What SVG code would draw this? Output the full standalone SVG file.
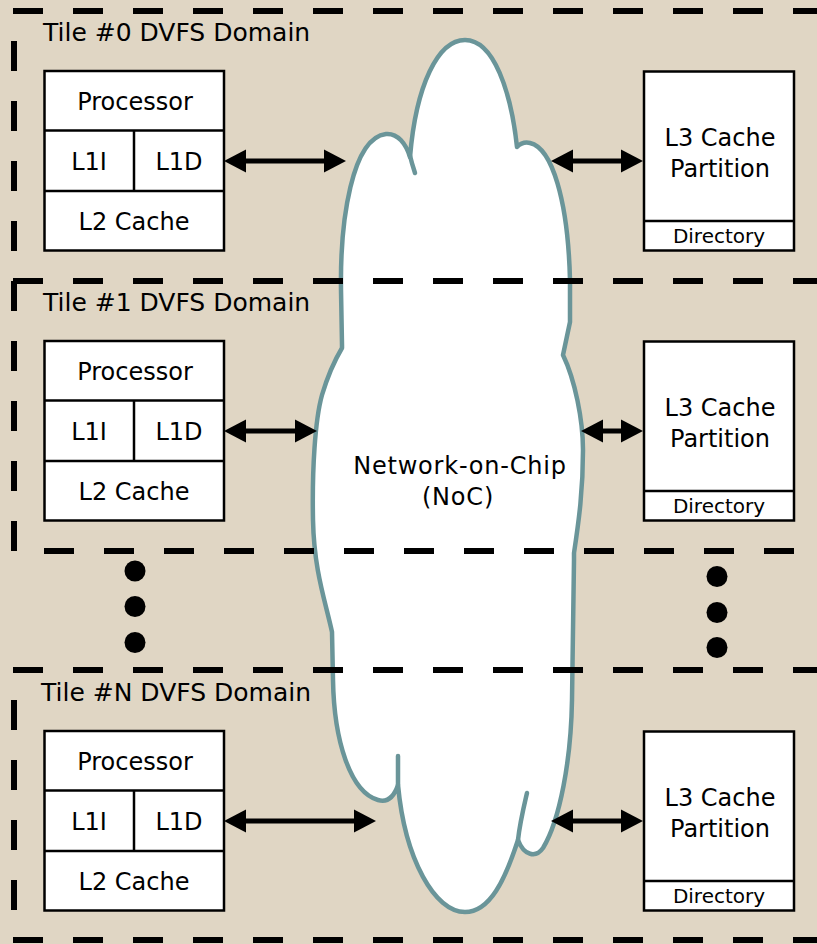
<svg xmlns="http://www.w3.org/2000/svg" width="817" height="944" viewBox="0 0 817 944">
  <defs>
    <style>
      .bg { fill: #e0d6c4; }
      .dash { stroke: #000; stroke-width: 6; stroke-dasharray: 30 30; fill: none; }
      .box { fill: #fff; stroke: #000; stroke-width: 2.5; }
      .div { stroke: #000; stroke-width: 2.5; fill: none; }
      .t { font-family: "DejaVu Sans", "Liberation Sans", sans-serif; fill: #000; }
      .title { font-size: 25px; }
      .lbl { font-size: 24px; text-anchor: middle; }
      .small { font-size: 20px; text-anchor: middle; }
      .cloud { fill: #fff; stroke: #6a9599; stroke-width: 4.5; stroke-linejoin: round; }
      .tail { fill: none; stroke: #6a9599; stroke-width: 4.5; stroke-linecap: round; }
      .arrow { stroke: #000; stroke-width: 5; fill: none; marker-start: url(#ah); marker-end: url(#ah); }
      .dot { fill: #000; }
    </style>
    <marker id="ah" markerUnits="userSpaceOnUse" markerWidth="23" markerHeight="24" viewBox="0 0 23 24" refX="11" refY="12" orient="auto-start-reverse">
      <path d="M0,0.5 L22,12 L0,23.5 z" fill="#000"/>
    </marker>
  </defs>

  <rect class="bg" x="0" y="0" width="817" height="944"/>

  <g id="cloud">
    <path class="cloud" d="M 342 345 L 341 290 C 340 220, 352 138, 386 134 C 398 133, 406 144, 410 157 C 416 85, 438 40, 465 40 C 494 40, 511 92, 517 147 C 521 143, 526 142, 530 143 C 552 148, 568 200, 570 280 L 570 322 L 563 355 C 575 380, 583 420, 583 450 C 583 490, 579 520, 574 553 L 574 560 L 572 700 C 571 760, 560 820, 543 848 C 536 858, 524 856, 518 840 C 505 880, 490 912, 465 912 C 435 912, 405 860, 398 785 C 393 800, 385 802, 378 800 C 350 792, 334 740, 333 680 L 332 632 C 325 600, 314 570, 313 520 C 312 470, 315 420, 322 395 C 328 375, 336 358, 342 348 Z"/>
    <path class="tail" d="M 409 152 C 411 160, 413 167, 415 173"/>
    <path class="tail" d="M 398 785 L 398 756"/>
    <path class="tail" d="M 518 840 C 520 822, 524 806, 527 793"/>
    <text class="t lbl" x="460" y="474" letter-spacing="0.8">Network-on-Chip</text>
    <text class="t lbl" x="458" y="505" letter-spacing="0.8">(NoC)</text>
  </g>

  <g id="domains">
    <line class="dash" x1="13" y1="11" x2="817" y2="11"/>
    <line class="dash" x1="13" y1="281" x2="817" y2="281"/>
    <line class="dash" x1="44" y1="551" x2="817" y2="551"/>
    <line class="dash" x1="13" y1="670" x2="817" y2="670"/>
    <line class="dash" x1="13" y1="940" x2="817" y2="940"/>
    <line class="dash" x1="14" y1="11" x2="14" y2="551" stroke-dashoffset="30"/>
    <line class="dash" x1="14" y1="670" x2="14" y2="940" stroke-dashoffset="30"/>
    <text class="t title" x="43" y="40.5">Tile #0 DVFS Domain</text>
    <text class="t title" x="43" y="310.5">Tile #1 DVFS Domain</text>
    <text class="t title" x="41" y="700.5">Tile #N DVFS Domain</text>
  </g>

  <g id="tile0-core">
    <rect class="box" x="44.5" y="71" width="179.5" height="179.5"/>
    <line class="div" x1="44.5" y1="130.5" x2="224" y2="130.5"/>
    <line class="div" x1="44.5" y1="191" x2="224" y2="191"/>
    <line class="div" x1="134" y1="130.5" x2="134" y2="191"/>
    <text class="t lbl" x="135" y="110">Processor</text>
    <text class="t lbl" x="89" y="170">L1I</text>
    <text class="t lbl" x="179" y="170">L1D</text>
    <text class="t lbl" x="134" y="230">L2 Cache</text>
  </g>
  <g id="tile0-l3">
    <rect class="box" x="644" y="71.5" width="150" height="179"/>
    <line class="div" x1="644" y1="221" x2="794" y2="221"/>
    <text class="t lbl" x="720" y="146">L3 Cache</text>
    <text class="t lbl" x="720" y="177">Partition</text>
    <text class="t small" x="719" y="243">Directory</text>
  </g>

  <g id="tile1-core">
    <rect class="box" x="44.5" y="341" width="179.5" height="179.5"/>
    <line class="div" x1="44.5" y1="400.5" x2="224" y2="400.5"/>
    <line class="div" x1="44.5" y1="461" x2="224" y2="461"/>
    <line class="div" x1="134" y1="400.5" x2="134" y2="461"/>
    <text class="t lbl" x="135" y="380">Processor</text>
    <text class="t lbl" x="89" y="440">L1I</text>
    <text class="t lbl" x="179" y="440">L1D</text>
    <text class="t lbl" x="134" y="500">L2 Cache</text>
  </g>
  <g id="tile1-l3">
    <rect class="box" x="644" y="341.5" width="150" height="179"/>
    <line class="div" x1="644" y1="491" x2="794" y2="491"/>
    <text class="t lbl" x="720" y="416">L3 Cache</text>
    <text class="t lbl" x="720" y="447">Partition</text>
    <text class="t small" x="719" y="513">Directory</text>
  </g>

  <g id="tileN-core">
    <rect class="box" x="44.5" y="731" width="179.5" height="179.5"/>
    <line class="div" x1="44.5" y1="790.5" x2="224" y2="790.5"/>
    <line class="div" x1="44.5" y1="851" x2="224" y2="851"/>
    <line class="div" x1="134" y1="790.5" x2="134" y2="851"/>
    <text class="t lbl" x="135" y="770">Processor</text>
    <text class="t lbl" x="89" y="830">L1I</text>
    <text class="t lbl" x="179" y="830">L1D</text>
    <text class="t lbl" x="134" y="890">L2 Cache</text>
  </g>
  <g id="tileN-l3">
    <rect class="box" x="644" y="731.5" width="150" height="179"/>
    <line class="div" x1="644" y1="881" x2="794" y2="881"/>
    <text class="t lbl" x="720" y="806">L3 Cache</text>
    <text class="t lbl" x="720" y="837">Partition</text>
    <text class="t small" x="719" y="903">Directory</text>
  </g>

  <g id="ellipsis">
    <ellipse class="dot" cx="135" cy="571" rx="10.5" ry="10.5"/>
    <ellipse class="dot" cx="135" cy="606.5" rx="10.5" ry="10.5"/>
    <ellipse class="dot" cx="135" cy="642.5" rx="10.5" ry="10.5"/>
    <ellipse class="dot" cx="717" cy="576.5" rx="10.5" ry="10.5"/>
    <ellipse class="dot" cx="717" cy="612.5" rx="10.5" ry="10.5"/>
    <ellipse class="dot" cx="717" cy="647.5" rx="10.5" ry="10.5"/>
  </g>

  <g id="connectors">
    <line class="arrow" x1="235" y1="161" x2="335" y2="161"/>
    <line class="arrow" x1="562" y1="161" x2="632" y2="161"/>
    <line class="arrow" x1="235" y1="431" x2="306" y2="431"/>
    <line class="arrow" x1="592" y1="431" x2="632" y2="431"/>
    <line class="arrow" x1="235" y1="821" x2="365" y2="821"/>
    <line class="arrow" x1="562" y1="821" x2="632" y2="821"/>
  </g>
</svg>
